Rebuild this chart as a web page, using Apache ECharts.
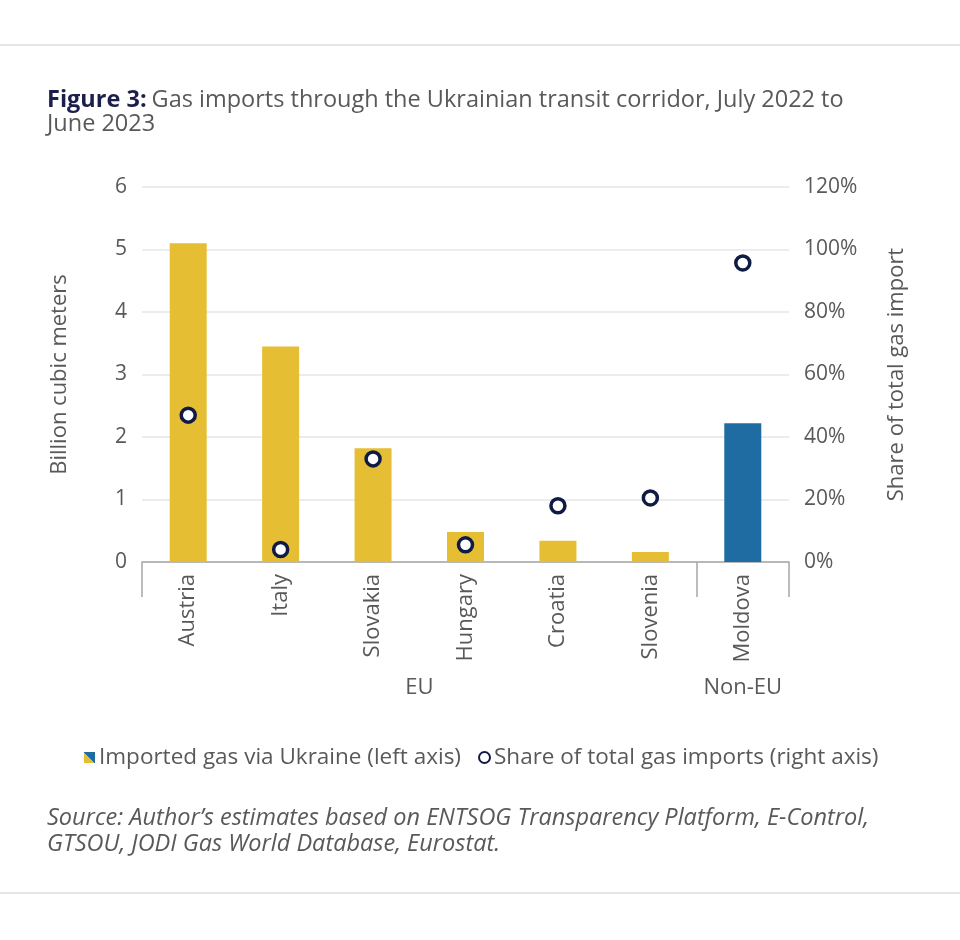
<!DOCTYPE html>
<html>
<head>
<meta charset="utf-8">
<script src="https://cdn.jsdelivr.net/npm/echarts@6/dist/echarts.min.js"></script>
<style>html,body{margin:0;padding:0;background:#fff;}#chart{width:960px;height:940px;}</style>
</head>
<body>
<div id="chart"></div>
<script>
const categories = ['Austria', 'Italy', 'Slovakia', 'Hungary', 'Croatia', 'Slovenia', 'Moldova'];
const groupOf = ['EU', 'EU', 'EU', 'EU', 'EU', 'EU', 'Non-EU'];
const gasBcm = [5.1, 3.45, 1.82, 0.48, 0.34, 0.16, 2.22];
const sharePct = [47, 4, 33, 5.5, 18, 20.5, 95.7];
const leftTicks = [0, 6, 1];      // min, max, interval
const rightTicks = [0, 120, 20];
const groupLabels = [{ pos: 3, text: 'EU' }, { pos: 6.5, text: 'Non-EU' }];

const YELLOW = '#E6BE33', BLUE = '#1F6CA3', NAVY = '#0F1B45', GREY = '#595959';
const FONT = '"Open Sans", Lato, sans-serif';

const chart = echarts.init(document.getElementById('chart'), null, { renderer: 'canvas' });
const boundaryIdx = [];
groupOf.forEach((g, i) => { if (i === 0 || g !== groupOf[i - 1]) boundaryIdx.push(i); });

chart.setOption({
  backgroundColor: '#fff',
  animation: false,
  title: [{
    left: 47, top: 88, padding: 0,
    text: '{b|Figure 3:} {n|Gas imports through the Ukrainian transit corridor, July 2022 to}\n{n|June 2023}',
    textStyle: {
      fontWeight: 'normal',
      rich: {
        b: { fontFamily: FONT, fontSize: 23.5, fontWeight: 'bold', color: '#1B1F4B', lineHeight: 24 },
        n: { fontFamily: FONT, fontSize: 23.5, fontWeight: 'normal', color: GREY, lineHeight: 24 }
      }
    }
  }, {
    left: 47, top: 805, padding: 0,
    text: 'Source: Author\u2019s estimates based on ENTSOG Transparency Platform, E-Control,\nGTSOU, JODI Gas World Database, Eurostat.',
    textStyle: { fontFamily: FONT, fontSize: 23.5, fontStyle: 'italic', fontWeight: 'normal', color: GREY, lineHeight: 26 }
  }],
  graphic: [
    { type: 'line', shape: { x1: 0, y1: 45, x2: 960, y2: 45 }, style: { stroke: '#DDDDDD', lineWidth: 1.5 } },
    { type: 'line', shape: { x1: 0, y1: 893, x2: 960, y2: 893 }, style: { stroke: '#DDDDDD', lineWidth: 1.5 } }
  ],
  legend: {
    left: 79, top: 741,
    itemGap: 17,
    itemWidth: 11, itemHeight: 11,
    textStyle: { fontFamily: FONT, fontSize: 22.5, color: GREY, padding: [0, 0, 0, -1] },
    data: [
      { name: 'Imported gas via Ukraine (left axis)', icon: 'rect',
        itemStyle: { color: { type: 'linear', x: 0, y: 1, x2: 1, y2: 0, colorStops: [
          { offset: 0, color: YELLOW }, { offset: 0.5, color: YELLOW }, { offset: 0.5, color: BLUE }, { offset: 1, color: BLUE }] } } },
      { name: 'Share of total gas imports (right axis)', icon: 'circle' }
    ]
  },
  grid: { left: 142, right: 171, top: 187, bottom: 378, containLabel: false },
  xAxis: [{
    type: 'category',
    data: categories,
    boundaryGap: true,
    axisLine: { show: true, lineStyle: { color: '#A6A6A6', width: 1.5 } },
    axisTick: { show: true, length: 35, lineStyle: { color: '#A6A6A6', width: 1.5 },
      interval: (idx) => boundaryIdx.indexOf(idx) >= 0 },
    axisLabel: { rotate: 90, margin: 12, fontFamily: FONT, fontSize: 22, color: GREY, interval: 0 },
    splitLine: { show: false }
  }, {
    type: 'value',
    position: 'bottom',
    offset: 115,
    min: 0, max: categories.length, interval: 0.5,
    axisLine: { show: false }, axisTick: { show: false }, splitLine: { show: false },
    axisLabel: {
      margin: 0, fontFamily: FONT, fontSize: 22, color: GREY, showMinLabel: true, showMaxLabel: true,
      formatter: (v) => { const g = groupLabels.find(x => Math.abs(x.pos - v) < 1e-6); return g ? g.text : ''; }
    }
  }],
  yAxis: [{
    type: 'value',
    min: leftTicks[0], max: leftTicks[1], interval: leftTicks[2],
    name: 'Billion cubic meters',
    nameLocation: 'middle', nameGap: 71, nameRotate: 90,
    nameTextStyle: { fontFamily: FONT, fontSize: 22, color: GREY },
    axisLine: { show: false }, axisTick: { show: false },
    axisLabel: { margin: 15, fontFamily: FONT, fontSize: 21, color: GREY },
    splitLine: { show: true, lineStyle: { color: '#E6E6E6', width: 1.5 } }
  }, {
    type: 'value',
    min: rightTicks[0], max: rightTicks[1], interval: rightTicks[2],
    name: 'Share of total gas import',
    nameLocation: 'middle', nameGap: 97, nameRotate: 90,
    nameTextStyle: { fontFamily: FONT, fontSize: 22, color: GREY },
    axisLine: { show: false }, axisTick: { show: false },
    axisLabel: { margin: 15, fontFamily: FONT, fontSize: 21, color: GREY, formatter: '{value}%' },
    splitLine: { show: false }
  }],
  series: [{
    name: 'Imported gas via Ukraine (left axis)',
    type: 'bar',
    xAxisIndex: 0, yAxisIndex: 0,
    barWidth: 37,
    itemStyle: { color: YELLOW },
    data: gasBcm.map((v, i) => ({ value: v, itemStyle: { color: groupOf[i] === 'EU' ? YELLOW : BLUE } })),
    z: 2
  }, {
    name: 'Share of total gas imports (right axis)',
    type: 'scatter',
    xAxisIndex: 0, yAxisIndex: 1,
    symbol: 'circle', symbolSize: 14,
    itemStyle: { color: '#FFFFFF', borderColor: NAVY, borderWidth: 3.5, opacity: 1 },
    data: sharePct,
    z: 3
  }]
});
</script>
</body>
</html>
